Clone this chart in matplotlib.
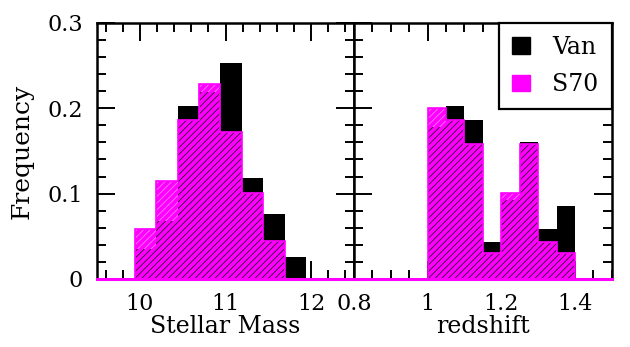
import numpy as np
import matplotlib
matplotlib.use('Agg')
import matplotlib.pyplot as plt
from matplotlib.patches import Patch
from matplotlib.ticker import MultipleLocator, FuncFormatter

# Histogramas (frecuencias)
mass_start = 9.94
mass_width = 0.25
van_mass = [0.035, 0.068, 0.203, 0.219, 0.253, 0.118, 0.076, 0.026]
s70_mass = [0.058, 0.115, 0.186, 0.229, 0.172, 0.101, 0.044, 0.0]

z_start = 1.0
z_width = 0.05
van_z = [0.178, 0.203, 0.186, 0.043, 0.093, 0.160, 0.059, 0.085]
s70_z = [0.200, 0.186, 0.158, 0.030, 0.101, 0.158, 0.043, 0.030]

MAGENTA = '#ff00ff'

plt.rcParams['font.family'] = ['DejaVu Serif']
plt.rcParams['hatch.linewidth'] = 0.6

fig = plt.figure(figsize=(6.3, 3.47), dpi=100)
ax1 = fig.add_axes([0.154, 0.196, 0.408, 0.738])
ax2 = fig.add_axes([0.562, 0.196, 0.409, 0.738])


def draw_hist(ax, start, width, van, s70):
    van = np.array(van)
    s70 = np.array(s70)
    lefts = start + width * np.arange(len(van))
    # Van: barras negras solidas
    ax.bar(lefts, van, width=width, align='edge', color='black', lw=0, zorder=2)
    # S70: magenta con rayado
    ax.bar(lefts, s70, width=width, align='edge', color=MAGENTA, lw=0, zorder=3)
    low = np.minimum(van, s70)
    ax.bar(lefts, low, width=width, align='edge', facecolor='none',
           edgecolor='#2a002a', hatch='/////', lw=0, zorder=4)
    ax.bar(lefts, s70 - low, bottom=low, width=width, align='edge',
           facecolor='none', edgecolor='#ff7fff', hatch='/////', lw=0, zorder=4)
    edges = np.append(lefts, lefts[-1] + width)
    ax.stairs(s70, edges, color=MAGENTA, lw=1.2, zorder=5)
    ax.axhline(0, color=MAGENTA, lw=2.2, zorder=6, clip_on=False)


draw_hist(ax1, mass_start, mass_width, van_mass, s70_mass)
draw_hist(ax2, z_start, z_width, van_z, s70_z)

for ax in (ax1, ax2):
    ax.set_ylim(0, 0.3)
    ax.yaxis.set_major_locator(MultipleLocator(0.1))
    ax.yaxis.set_minor_locator(MultipleLocator(0.02))
    ax.tick_params(which='both', direction='in', top=True, right=True,
                   width=1.4, labelsize=16)
    ax.tick_params(which='major', length=13, pad=10)
    ax.tick_params(which='minor', length=6.5)
    for s in ax.spines.values():
        s.set_linewidth(1.8)
    ax.xaxis.set_major_formatter(FuncFormatter(lambda v, p: '%g' % round(v, 3)))
    ax.yaxis.set_major_formatter(FuncFormatter(lambda v, p: '%g' % round(v, 3)))

ax1.set_xlim(9.5, 12.5)
ax1.xaxis.set_major_locator(MultipleLocator(1))
ax1.xaxis.set_minor_locator(MultipleLocator(0.2))
ax1.set_xlabel('Stellar Mass', fontsize=17, labelpad=0)
ax1.set_ylabel('Frequency', fontsize=18, labelpad=10)

ax2.set_xlim(0.8, 1.5)
ax2.xaxis.set_major_locator(MultipleLocator(0.2))
ax2.xaxis.set_minor_locator(MultipleLocator(0.05))
ax2.tick_params(labelleft=False)
ax2.set_xlabel('redshift', fontsize=17, labelpad=0)

handles = [Patch(facecolor='black', edgecolor='black', label='Van'),
           Patch(facecolor=MAGENTA, edgecolor=MAGENTA, label='S70')]
leg = ax2.legend(handles=handles, loc='upper right', fontsize=17,
                 handlelength=0.75, handleheight=0.7, handletextpad=0.95,
                 borderaxespad=0, borderpad=0.55, fancybox=False,
                 framealpha=1, edgecolor='black', labelspacing=0.6)
leg.get_frame().set_linewidth(1.6)
leg.set_zorder(10)

fig.savefig('out.png', dpi=100)
